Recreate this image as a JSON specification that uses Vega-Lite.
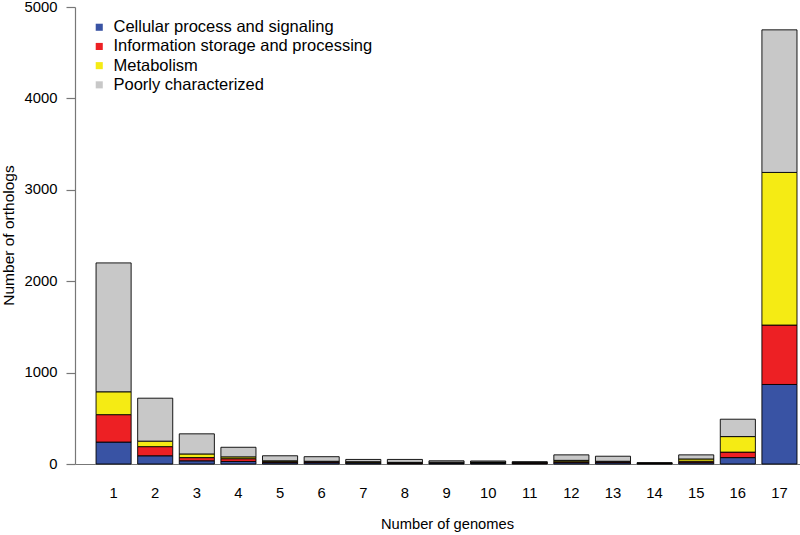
{
  "$schema": "https://vega.github.io/schema/vega-lite/v6.json",
  "autosize": "none",
  "width": 725,
  "height": 457,
  "padding": {"left": 75, "top": 7, "right": 0, "bottom": 71},
  "background": "white",
  "config": {
    "view": {"stroke": null},
    "font": "Liberation Sans",
    "axis": {"grid": false, "labelFont": "Liberation Sans", "titleFont": "Liberation Sans", "labelColor": "#000", "titleColor": "#000", "titleFontWeight": "normal"}
  },
  "data": {
    "values": [
      {"g": 1, "c": "Cellular process and signaling", "n": 240},
      {"g": 1, "c": "Information storage and processing", "n": 300},
      {"g": 1, "c": "Metabolism", "n": 250},
      {"g": 1, "c": "Poorly characterized", "n": 1410},
      {"g": 2, "c": "Cellular process and signaling", "n": 90},
      {"g": 2, "c": "Information storage and processing", "n": 100},
      {"g": 2, "c": "Metabolism", "n": 60},
      {"g": 2, "c": "Poorly characterized", "n": 470},
      {"g": 3, "c": "Cellular process and signaling", "n": 35},
      {"g": 3, "c": "Information storage and processing", "n": 35},
      {"g": 3, "c": "Metabolism", "n": 40},
      {"g": 3, "c": "Poorly characterized", "n": 220},
      {"g": 4, "c": "Cellular process and signaling", "n": 28},
      {"g": 4, "c": "Information storage and processing", "n": 30},
      {"g": 4, "c": "Metabolism", "n": 20},
      {"g": 4, "c": "Poorly characterized", "n": 105},
      {"g": 5, "c": "Cellular process and signaling", "n": 15},
      {"g": 5, "c": "Information storage and processing", "n": 10},
      {"g": 5, "c": "Metabolism", "n": 10},
      {"g": 5, "c": "Poorly characterized", "n": 55},
      {"g": 6, "c": "Cellular process and signaling", "n": 15},
      {"g": 6, "c": "Information storage and processing", "n": 10},
      {"g": 6, "c": "Metabolism", "n": 5},
      {"g": 6, "c": "Poorly characterized", "n": 50},
      {"g": 7, "c": "Cellular process and signaling", "n": 12},
      {"g": 7, "c": "Information storage and processing", "n": 8},
      {"g": 7, "c": "Metabolism", "n": 5},
      {"g": 7, "c": "Poorly characterized", "n": 25},
      {"g": 8, "c": "Cellular process and signaling", "n": 8},
      {"g": 8, "c": "Information storage and processing", "n": 5},
      {"g": 8, "c": "Metabolism", "n": 5},
      {"g": 8, "c": "Poorly characterized", "n": 32},
      {"g": 9, "c": "Cellular process and signaling", "n": 10},
      {"g": 9, "c": "Information storage and processing", "n": 5},
      {"g": 9, "c": "Metabolism", "n": 5},
      {"g": 9, "c": "Poorly characterized", "n": 15},
      {"g": 10, "c": "Cellular process and signaling", "n": 10},
      {"g": 10, "c": "Information storage and processing", "n": 6},
      {"g": 10, "c": "Metabolism", "n": 6},
      {"g": 10, "c": "Poorly characterized", "n": 11},
      {"g": 11, "c": "Cellular process and signaling", "n": 8},
      {"g": 11, "c": "Information storage and processing", "n": 5},
      {"g": 11, "c": "Metabolism", "n": 5},
      {"g": 11, "c": "Poorly characterized", "n": 7},
      {"g": 12, "c": "Cellular process and signaling", "n": 15},
      {"g": 12, "c": "Information storage and processing", "n": 10},
      {"g": 12, "c": "Metabolism", "n": 15},
      {"g": 12, "c": "Poorly characterized", "n": 60},
      {"g": 13, "c": "Cellular process and signaling", "n": 15},
      {"g": 13, "c": "Information storage and processing", "n": 10},
      {"g": 13, "c": "Metabolism", "n": 5},
      {"g": 13, "c": "Poorly characterized", "n": 55},
      {"g": 14, "c": "Cellular process and signaling", "n": 4},
      {"g": 14, "c": "Information storage and processing", "n": 3},
      {"g": 14, "c": "Metabolism", "n": 3},
      {"g": 14, "c": "Poorly characterized", "n": 4},
      {"g": 15, "c": "Cellular process and signaling", "n": 15},
      {"g": 15, "c": "Information storage and processing", "n": 15},
      {"g": 15, "c": "Metabolism", "n": 25},
      {"g": 15, "c": "Poorly characterized", "n": 45},
      {"g": 16, "c": "Cellular process and signaling", "n": 70},
      {"g": 16, "c": "Information storage and processing", "n": 60},
      {"g": 16, "c": "Metabolism", "n": 170},
      {"g": 16, "c": "Poorly characterized", "n": 190},
      {"g": 17, "c": "Cellular process and signaling", "n": 870},
      {"g": 17, "c": "Information storage and processing", "n": 650},
      {"g": 17, "c": "Metabolism", "n": 1670},
      {"g": 17, "c": "Poorly characterized", "n": 1560}
    ]
  },
  "mark": {"type": "bar", "stroke": "#000", "strokeWidth": 0.9},
  "encoding": {
    "x": {
      "field": "g",
      "type": "ordinal",
      "scale": {"paddingInner": 0.157, "paddingOuter": 0.289, "align": 0.875},
      "axis": {
        "title": "Number of genomes",
        "titleFontSize": 14.7,
        "titleX": 372,
        "titleY": 60,
        "titleAnchor": null,
        "titleAlign": "center",
        "titleBaseline": "middle",
        "labelAngle": 0,
        "labelFontSize": 14.8,
        "ticks": false,
        "labelPadding": 21,
        "domainColor": "#777",
        "domainWidth": 1.2
      }
    },
    "y": {
      "field": "n",
      "type": "quantitative",
      "aggregate": "sum",
      "stack": "zero",
      "scale": {"domain": [0, 5000], "nice": false},
      "axis": {
        "title": "Number of orthologs",
        "titleFontSize": 15.5,
        "titleX": -67,
        "titleY": 228,
        "titleAngle": -90,
        "titleAlign": "center",
        "titleBaseline": "middle",
        "values": [0, 1000, 2000, 3000, 4000, 5000],
        "format": "d",
        "labelFontSize": 14.8,
        "tickSize": 9,
        "labelPadding": 9,
        "tickColor": "#777",
        "tickWidth": 1.2,
        "domainColor": "#777",
        "domainWidth": 1.2
      }
    },
    "color": {
      "field": "c",
      "type": "nominal",
      "scale": {
        "domain": ["Cellular process and signaling", "Information storage and processing", "Metabolism", "Poorly characterized"],
        "range": ["#3953a4", "#ed2024", "#f5eb14", "#c8c8c8"]
      },
      "legend": {
        "title": null,
        "orient": "none",
        "legendX": 16,
        "legendY": 12,
        "symbolType": "square",
        "symbolSize": 50,
        "symbolStrokeWidth": 0,
        "labelFontSize": 16.5,
        "labelFont": "Liberation Sans",
        "labelColor": "#000",
        "labelOffset": 6,
        "rowPadding": 2.2,
        "labelLimit": 400
      }
    },
    "order": {"field": "c", "sort": "ascending"}
  }
}
